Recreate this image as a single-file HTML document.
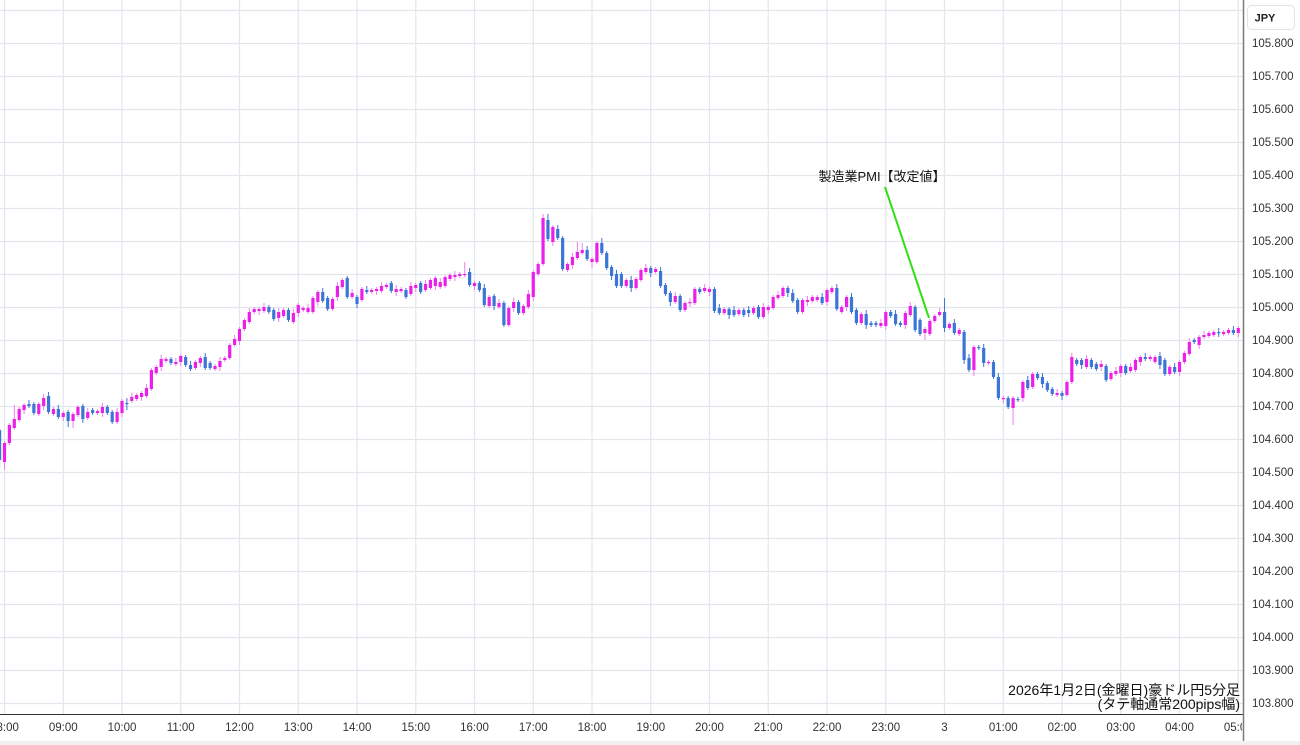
<!DOCTYPE html>
<html><head><meta charset="utf-8">
<style>
html,body{margin:0;padding:0;background:#fff;}
#wrap{position:relative;width:1300px;height:745px;overflow:hidden;background:#fff;}
svg{position:absolute;left:0;top:0;}
.yl{font-family:"Liberation Sans",sans-serif;font-size:11.5px;fill:#333;}
.xl{font-family:"Liberation Sans",sans-serif;font-size:11.5px;fill:#333;}
.jp{font-family:"Liberation Sans","Noto Sans CJK JP",sans-serif;}
</style></head>
<body>
<div id="wrap">
<svg id="s" width="1300" height="745" viewBox="0 0 1300 745" xmlns="http://www.w3.org/2000/svg">
  <rect x="0" y="0" width="1300" height="745" fill="#ffffff"/>
  <rect x="0" y="741" width="1300" height="4" fill="#f1f1f1"/>
  <g id="grid" stroke="#e1e7ed" stroke-width="1.2"></g>
  <g id="candles"></g>
  <line x1="885" y1="187" x2="929" y2="318" stroke="#2fe012" stroke-width="2"/>
  <text x="882" y="181" text-anchor="middle" class="jp" font-size="13" fill="#111">製造業PMI【改定値】</text>
  <text x="1240" y="695" text-anchor="end" class="jp" font-size="14" fill="#111">2026年1月2日(金曜日)豪ドル円5分足</text>
  <text x="1240" y="709" text-anchor="end" class="jp" font-size="14" fill="#111">(タテ軸通常200pips幅)</text>
  <rect x="1243" y="0" width="57" height="741" fill="#fff"/>
  <line x1="0" y1="714.5" x2="1243" y2="714.5" stroke="#333" stroke-width="1"/>
  <line x1="1243.5" y1="0" x2="1243.5" y2="741" stroke="#7a7a7a" stroke-width="1.5"/>
  <g id="ylab"></g>
  <g id="xlab"></g>
  <rect x="1247.5" y="5.5" width="47" height="24" rx="4" ry="4" fill="#fff" stroke="#e2e2e2"/>
  <text x="1265" y="21.5" text-anchor="middle" font-family="Liberation Sans, sans-serif" font-size="11" font-weight="bold" fill="#222">JPY</text>
</svg>
</div>
<script>
(function(){
var NS="http://www.w3.org/2000/svg";
function el(tag,attrs,parent){var e=document.createElementNS(NS,tag);for(var k in attrs)e.setAttribute(k,attrs[k]);parent.appendChild(e);return e;}
var grid=document.getElementById('grid');
for(var i=0;i<=21;i++){var y=10+33*i;if(y>714)break;el('line',{x1:0,y1:y+0.5,x2:1243,y2:y+0.5},grid);}
for(var n=0;n<22;n++){var x=4.5+58.75*n;el('line',{x1:x,y1:0,x2:x,y2:714},grid);}
var yl=document.getElementById('ylab');
for(var i=0;i<=20;i++){var p=(105.8-0.1*i).toFixed(3);var y=43+33*i;var t=el('text',{x:1252,y:y+4,'class':'yl'},yl);t.textContent=p;}
var xl=document.getElementById('xlab');
var labs=["08:00","09:00","10:00","11:00","12:00","13:00","14:00","15:00","16:00","17:00","18:00","19:00","20:00","21:00","22:00","23:00","3","01:00","02:00","03:00","04:00","05:00"];
var cp=el('clipPath',{id:'cx'},document.getElementById('s'));el('rect',{x:0,y:716,width:1242,height:25},cp);
var gx=el('g',{'clip-path':'url(#cx)'},xl);
for(var n=0;n<labs.length;n++){var x=4.5+58.75*n;var t=el('text',{x:x,y:731,'text-anchor':'middle','class':'xl'},gx);t.textContent=labs[n];}
var D=[
['B',430,460,428,468],['P',443,462,441,470],['P',425,443],['P',419,428,405],['P',409,420],['P',405,410],['B',404,406,400],['B',404,413],['P',404,414],['P',398,406],
['B',396,412,392],['P',409,414],['B',409,417],['P',413,417],['B',412,421,410,427],['P',414,421,412,428],['P',407,415],['B',406,419],['P',412,418],['B',410,413],
['P',411,413],['P',407,413],['B',407,413],['B',412,422],['P',412,422],['P',401,413],['B',403,404,398,410],['P',397,401],['P',395,399],['P',393,397],
['P',388,396],['P',370,389],['P',367,373],['P',359,367],['P',359,361],['B',359,363],['P',362,364],['P',356,362],['B',357,365],['B',365,369],
['P',362,368],['P',358,363],['B',357,368],['B',363,368],['P',366,369],['P',361,367],['P',358,360],['P',345,358],['P',339,345],['P',329,341],
['P',320,329],['P',312,322],['P',309,312],['P',309,311],['P',307,311],['B',307,312],['B',310,319],['P',312,318],['P',310,316],['B',310,320],
['P',313,322],['P',305,313],['P',308,310],['P',308,312],['P',298,312],['P',292,302],['B',292,301],['B',298,309],['P',299,309],['P',286,297],
['P',280,287],['B',278,297],['P',293,297],['B',297,304],['P',289,300],['B',290,292],['P',290,292],['P',289,291],['P',286,291],['P',285,287],
['B',283,291],['P',289,292],['P',289,291],['B',290,297],['P',286,294],['P',285,288],['B',283,292],['P',284,290],['P',280,288],['P',278,286],
['P',282,287],['P',277,286],['P',275,279],['P',275,277],['P',274,276],['P',274,275,262],['B',272,285],['P',283,286],['B',283,290],['B',288,305],
['P',297,306],['B',296,306],['P',303,307],['B',303,325],['P',308,325],['P',302,308],['B',302,313],['P',306,313],['P',294,307],['P',272,297],
['P',264,274],['P',218,264],['B',220,239,214],['P',227,242],['B',229,238],['B',238,269],['P',264,270],['P',257,265],['P',252,258,242],['P',250,253,243],
['B',250,259],['P',259,262,257,268],['P',243,262],['B',243,253,238],['B',253,268],['B',267,276],['B',274,286],['B',274,286],['P',280,286],['B',280,288],
['P',279,288],['P',270,280],['P',268,272],['B',268,273],['P',269,272],['B',271,286],['B',285,294],['B',293,302],['P',296,302],['B',296,310],
['P',303,310],['P',302,303],['P',289,303],['B',289,292],['P',288,291],['P',289,292],['B',289,311],['B',308,313],['P',309,313],['B',309,315],
['B',310,315],['P',310,314],['B',310,315],['B',310,313],['P',308,313],['B',307,317],['P',307,317],['P',307,310],['P',297,308],['P',295,298],
['P',288,296],['B',288,293],['B',293,301],['B',300,312],['P',300,312],['P',300,302],['P',297,301],['P',297,300],['B',297,303],['P',290,302],
['P',288,292],['B',288,309],['P',307,312],['P',297,307],['B',297,312],['B',310,323],['P',314,323],['B',314,325],['B',323,325],['B',323,325],
['P',323,326],['P',312,326],['B',312,316],['B',314,324],['B',323,325],['P',313,325],['P',306,315],['B',307,330],['B',320,334],['P',329,333,327,340],
['P',321,334],['P',316,321],['P',312,315],['B',312,328,298],['P',324,328],['B',323,333],['P',330,334],['B',332,360],['B',358,370],['P',347,370,345,376],
['B',347,348],['B',348,363],['P',362,363],['B',362,377],['B',377,398],['P',398,399],['B',398,407],['P',398,408,396,425],['B',399,400],['P',382,398],
['B',380,388],['P',374,387],['B',374,378],['B',377,384],['B',383,390],['B',389,394],['P',393,395],['B',393,396],['P',382,395],['P',357,382],
['B',360,364],['B',360,365],['P',359,367],['B',360,367],['B',364,369],['P',364,367],['B',366,380],['P',373,379],['P',371,374],['P',366,373],
['B',366,373],['P',367,371],['P',360,370],['P',357,362],['B',357,359],['P',357,359],['P',357,362],['B',356,365],['B',360,374],['P',367,374],
['B',367,372],['P',362,372],['P',353,362],['P',342,354],['B',340,342],['P',337,345],['P',335,337],['P',333,336],['P',332,335],['B',332,333],
['P',332,334],['P',330,333],['B',330,333],['P',328,333],['P',326,331]
];
var cg=document.getElementById('candles');
var PINK="#ec1ee9",PINKW="#f27cf0",BLUE="#3b75d6",BLUEW="#3b75d6";
for(var k=0;k<D.length;k++){
  var d=D[k];var x=-0.4+4.896*k;
  if(x>1243)break;
  var top=d[1],bot=d[2];
  var wt=(d[3]!==undefined&&d[3]!==null)?d[3]:top-(k%3==0?4:2);
  var wb=(d[4]!==undefined&&d[4]!==null)?d[4]:bot+(k%4==1?4:2);
  var isP=d[0]=='P';
  el('line',{x1:x,y1:wt,x2:x,y2:wb,stroke:isP?PINKW:BLUEW,'stroke-width':1},cg);
  var h=Math.max(bot-top,1.2);
  el('rect',{x:x-1.6,y:top,width:3.2,height:h,fill:isP?PINK:BLUE},cg);
}
})();
</script>
</body></html>
